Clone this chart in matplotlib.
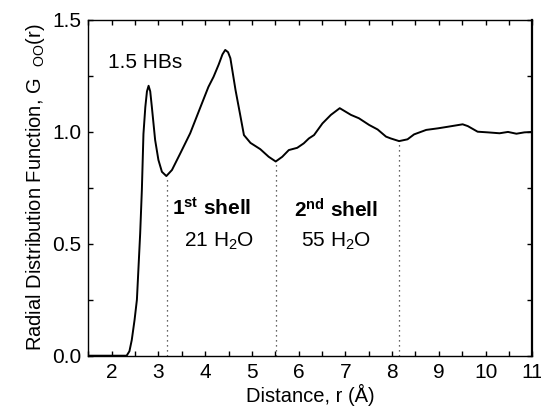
import matplotlib
matplotlib.use('Agg')
from matplotlib import pyplot as plt
from matplotlib.ticker import MultipleLocator

plt.rcParams['font.family'] = ['Liberation Sans', 'DejaVu Sans']
plt.rcParams['mathtext.fontset'] = 'custom'
plt.rcParams['mathtext.rm'] = 'Liberation Sans'
plt.rcParams['mathtext.it'] = 'Liberation Sans'
plt.rcParams['mathtext.bf'] = 'Liberation Sans:bold'
plt.rcParams['mathtext.default'] = 'regular'

# g_OO(r)
r = [1.5, 2.0, 2.32, 2.38, 2.43, 2.49, 2.54, 2.61, 2.646, 2.68, 2.72, 2.755, 2.79, 2.825,
     2.86, 2.93, 3.0, 3.075, 3.17, 3.29, 3.47, 3.68, 3.9, 4.07, 4.18, 4.29, 4.37, 4.43,
     4.49, 4.54, 4.65, 4.75, 4.83, 4.97, 5.18, 5.36, 5.51, 5.65, 5.79, 5.97, 6.11, 6.22,
     6.33, 6.51, 6.69, 6.88, 7.12, 7.29, 7.51, 7.69, 7.87, 7.97, 8.15, 8.33, 8.47, 8.73,
     8.98, 9.19, 9.51, 9.62, 9.83, 10.05, 10.3, 10.48, 10.66, 10.83, 11.0]
g = [0.0, 0.0, 0.0, 0.02, 0.07, 0.16, 0.25, 0.546, 0.74, 0.99, 1.11, 1.18, 1.205, 1.18,
     1.11, 0.963, 0.874, 0.821, 0.802, 0.829, 0.904, 0.993, 1.11, 1.20, 1.245, 1.30, 1.345, 1.365,
     1.355, 1.328, 1.186, 1.075, 0.985, 0.950, 0.922, 0.888, 0.867, 0.888, 0.918, 0.928, 0.948, 0.970,
     0.985, 1.037, 1.075, 1.105, 1.075, 1.06, 1.03, 1.01, 0.978, 0.970, 0.958, 0.966, 0.988, 1.008,
     1.015, 1.022, 1.033, 1.025, 1.0, 0.997, 0.993, 0.999, 0.991, 0.997, 0.999]

# shell boundaries (minima)
shell_r = [3.18, 5.51, 8.14]
shell_g = [0.80, 0.867, 0.958]

fig = plt.figure(figsize=(5.41, 4.13), dpi=100)
ax = fig.add_axes([88.3 / 541, 1 - 355.7 / 413, (532.3 - 88.3) / 541, (355.7 - 19.7) / 413])

ax.plot(r, g, color='black', lw=1.4, solid_joinstyle='round')
for xr, yg in zip(shell_r, shell_g):
    ax.plot([xr, xr], [0, yg - 0.01], color='#333333', lw=0.9, ls=(0, (1, 3)))

ax.set_xlim(1.5, 11)
ax.set_ylim(0, 1.5)
ax.xaxis.set_major_locator(MultipleLocator(1))
ax.xaxis.set_minor_locator(MultipleLocator(0.5))
ax.yaxis.set_major_locator(MultipleLocator(0.5))
ax.yaxis.set_minor_locator(MultipleLocator(0.25))
ax.yaxis.set_major_formatter(plt.FuncFormatter(lambda v, p: '%.1f' % v))
ax.tick_params(which='both', direction='in', top=True, right=True, labelsize=15,
               length=3.5, width=1, pad=5)
for s in ax.spines.values():
    s.set_linewidth(1)
ax.spines['right'].set_linewidth(1.6)

ax.set_xlabel('Distance, r (Å)', fontsize=14.5, labelpad=2)
ax.set_ylabel('Radial Distribution Function, G  $_{\\rm OO}$(r)', fontsize=14.5, labelpad=4)

ax.text(1.92, 1.31, '1.5 HBs', fontsize=15, va='center', ha='left')
ax.text(3.3, 0.66, '$\\mathbf{1^{st}}$ shell', fontsize=15, fontweight='bold', va='center', ha='left')
ax.text(4.29, 0.51, '21 H$_2$O', fontsize=15, va='center', ha='center')
ax.text(6.81, 0.65, '$\\mathbf{2^{nd}}$ shell', fontsize=15, fontweight='bold', va='center', ha='center')
ax.text(6.8, 0.51, '55 H$_2$O', fontsize=15, va='center', ha='center')

fig.savefig('out.png', dpi=100)
